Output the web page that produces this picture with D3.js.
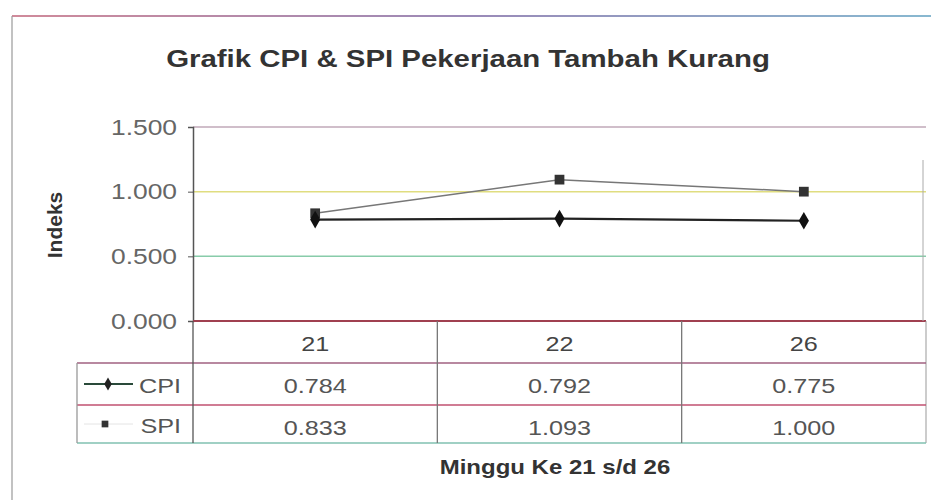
<!DOCTYPE html>
<html><head><meta charset="utf-8">
<script src="https://cdn.jsdelivr.net/npm/d3@7"></script>
<style>body{margin:0;background:#fff;} text{font-family:"Liberation Sans",Arial,sans-serif;}</style>
</head><body><svg id="c" width="931" height="500"></svg>
<script>
const categories = ["21", "22", "26"];
const seriesNames = ["CPI", "SPI"];
const cpiValues = [0.784, 0.792, 0.775];
const spiValues = [0.833, 1.093, 1.000];
const yTicks = [0, 0.5, 1.0, 1.5];
const titleText = "Grafik CPI & SPI Pekerjaan Tambah Kurang";
const yTitle = "Indeks";
const xTitle = "Minggu Ke 21 s/d 26";

const SX = 1.2;
const svg = d3.select("#c");
const L = 193, R = 926, T = 127, B = 321;
const rowH = [363, 405, 443];
const tableLeft = 77;

const x = d3.scaleBand().domain(categories).range([L, R]);
const y = d3.scaleLinear().domain([0, 1.5]).range([B, T]);

function stext(px, py, str, size, opts = {}) {
  const g = svg.append("g").attr("transform", `translate(${px},${py}) scale(${opts.sx || SX},1)`);
  return g.append("text").attr("x", 0).attr("y", 0)
    .attr("text-anchor", opts.anchor || "middle")
    .attr("font-size", size)
    .attr("font-weight", opts.bold ? "bold" : "normal")
    .attr("fill", opts.fill || "#444")
    .text(str);
}

// outer frame
const fg = svg.append("defs").append("linearGradient").attr("id", "fr").attr("x1", "0").attr("x2", "1");
fg.append("stop").attr("offset", "0").attr("stop-color", "#d08a9a");
fg.append("stop").attr("offset", "0.5").attr("stop-color", "#9a8ab8");
fg.append("stop").attr("offset", "1").attr("stop-color", "#88b8d0");
svg.append("rect").attr("x", 12).attr("y", 15).attr("width", 919).attr("height", 2).attr("fill", "url(#fr)");
svg.append("line").attr("x1", 12).attr("x2", 12).attr("y1", 16).attr("y2", 500).attr("stroke", "#999").attr("stroke-width", 1.2);

// title
stext(468, 67, titleText, 24.5, {bold: true, fill: "#333"});

// gridlines
const gridColors = ["#b04060", "#88ccaa", "#e0dd80", "#c0a8b8"];
svg.append("g").selectAll("line").data(yTicks.slice(1)).join("line")
  .attr("x1", L).attr("x2", R)
  .attr("y1", d => y(d)).attr("y2", d => y(d))
  .attr("stroke", (d, i) => gridColors[i + 1]).attr("stroke-width", 1.5);

// y axis
const yAxis = svg.append("g").attr("transform", `translate(${L},0)`)
  .call(d3.axisLeft(y).tickValues(yTicks).tickFormat(d3.format(".3f")).tickSize(5).tickPadding(11));
yAxis.select(".domain").attr("stroke", "#555").attr("stroke-width", 1.5);
yAxis.selectAll(".tick line").attr("stroke", "#555");
yAxis.selectAll(".tick text")
  .attr("font-size", 22).attr("fill", "#666")
  .attr("font-family", "Liberation Sans, Arial, sans-serif")
  .each(function () { const t = d3.select(this); t.attr("x", +t.attr("x") / SX).attr("transform", `scale(${SX},1)`); });

// axis baseline
svg.append("line").attr("x1", L).attr("x2", R).attr("y1", B).attr("y2", B).attr("stroke", "#a04050").attr("stroke-width", 2);
// right border
svg.append("line").attr("x1", R - 3).attr("x2", R - 3).attr("y1", 160).attr("y2", B).attr("stroke", "#aaa").attr("stroke-width", 1);
svg.append("line").attr("x1", R).attr("x2", R).attr("y1", B).attr("y2", rowH[2]).attr("stroke", "#999").attr("stroke-width", 1);

// y title
svg.append("text").attr("transform", `translate(62,225) rotate(-90)`)
  .attr("text-anchor", "middle").attr("font-size", 21).attr("font-weight", "bold").attr("fill", "#333").text(yTitle);

// data table grid
const tg = svg.append("g").attr("stroke", "#777").attr("stroke-width", 1.3);
tg.append("line").attr("x1", tableLeft).attr("x2", R).attr("y1", rowH[0]).attr("y2", rowH[0]).attr("stroke", "#a06080");
tg.append("line").attr("x1", tableLeft).attr("x2", R).attr("y1", rowH[1]).attr("y2", rowH[1]).attr("stroke", "#c05070");
tg.append("line").attr("x1", tableLeft).attr("x2", R).attr("y1", rowH[2]).attr("y2", rowH[2]).attr("stroke", "#80c0b0");
tg.append("line").attr("x1", tableLeft).attr("x2", tableLeft).attr("y1", rowH[0]).attr("y2", rowH[2]).attr("stroke", "#999");
tg.append("line").attr("x1", L).attr("x2", L).attr("y1", B).attr("y2", rowH[2]).attr("stroke", "#555");
tg.selectAll("line.v").data(categories.slice(1)).join("line").attr("class", "v")
  .attr("x1", d => x(d)).attr("x2", d => x(d)).attr("y1", B).attr("y2", rowH[2]);

// category labels
categories.forEach(c => stext(x(c) + x.bandwidth() / 2, 351, c, 21, {fill: "#444"}));
// values
const seriesVals = [cpiValues, spiValues];
seriesVals.forEach((vals, si) => {
  vals.forEach((v, i) => stext(x(categories[i]) + x.bandwidth() / 2, rowH[si] + 30, d3.format(".3f")(v), 21, {fill: "#555"}));
});

// legend keys in table
const diamond = d3.symbol().type(d3.symbolDiamond).size(50);
const square = d3.symbol().type(d3.symbolSquare).size(45);
svg.append("line").attr("x1", 84).attr("x2", 133).attr("y1", 384).attr("y2", 384).attr("stroke", "#2a4a3a").attr("stroke-width", 2);
svg.append("path").attr("d", diamond).attr("transform", "translate(108,384)").attr("fill", "#222");
svg.append("line").attr("x1", 84).attr("x2", 133).attr("y1", 424).attr("y2", 424).attr("stroke", "#e4e4e4").attr("stroke-width", 1);
svg.append("path").attr("d", square).attr("transform", "translate(105,424)").attr("fill", "#333");
stext(181, 393, seriesNames[0], 21, {anchor: "end", fill: "#555"});
stext(181, 433, seriesNames[1], 21, {anchor: "end", fill: "#555"});

// lines
const cx = c => x(c) + x.bandwidth() / 2;
const line = d3.line().x(d => cx(d.c)).y(d => y(d.v));
const spiData = categories.map((c, i) => ({c, v: spiValues[i]}));
const cpiData = categories.map((c, i) => ({c, v: cpiValues[i]}));
svg.append("path").datum(spiData).attr("d", line).attr("fill", "none").attr("stroke", "#777").attr("stroke-width", 1.5);
svg.append("path").datum(cpiData).attr("d", line).attr("fill", "none").attr("stroke", "#222").attr("stroke-width", 2.2);
svg.selectAll("path.sq").data(spiData).join("path").attr("class", "sq")
  .attr("d", d3.symbol().type(d3.symbolSquare).size(95)).attr("transform", d => `translate(${cx(d.c)},${y(d.v)})`).attr("fill", "#333");
svg.selectAll("path.dm").data(cpiData).join("path").attr("class", "dm")
  .attr("d", d3.symbol().type(d3.symbolDiamond).size(90)).attr("transform", d => `translate(${cx(d.c)},${y(d.v)})`).attr("fill", "#111");

// x title
stext(555, 474, xTitle, 20, {bold: true, fill: "#333"});
</script></body></html>
